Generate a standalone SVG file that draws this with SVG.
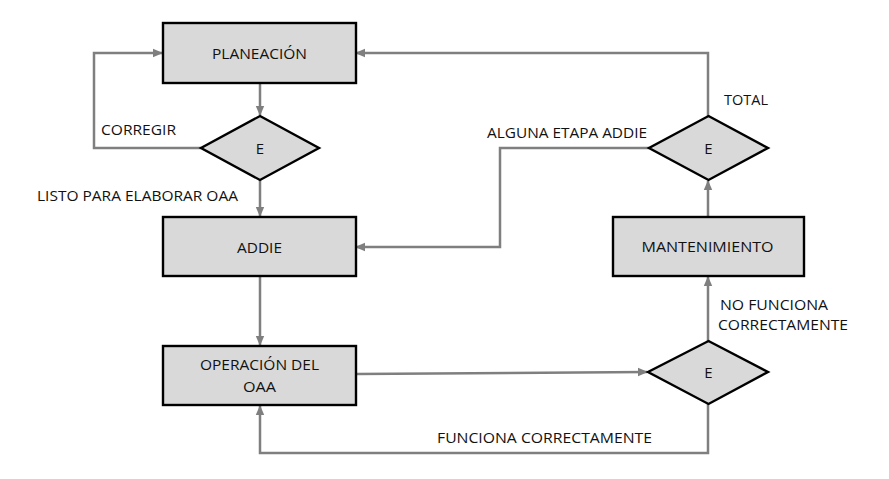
<svg xmlns="http://www.w3.org/2000/svg" width="889" height="479" viewBox="0 0 889 479">
<defs>
<style>
.box{fill:#d9d9d9;stroke:#000;stroke-width:2.4}
.t{font-family:"Open Sans","Liberation Sans",sans-serif;font-size:15px;fill:#111}
.c{text-anchor:middle}
.conn{fill:none;stroke:#7f7f7f;stroke-width:2.5}
</style>
<marker id="ah" markerUnits="userSpaceOnUse" markerWidth="10" markerHeight="10" viewBox="0 0 10 10" refX="9" refY="5" orient="auto">
<path d="M0,0.8 L10,5 L0,9.2 Z" fill="#7f7f7f"/>
</marker>
</defs>
<rect width="889" height="479" fill="#fff"/>
<g id="connectors">
<path class="conn" d="M708,116 V53 H356" marker-end="url(#ah)"/>
<path class="conn" d="M260,84 V115" marker-end="url(#ah)"/>
<path class="conn" d="M201,148 H94 V53 H162" marker-end="url(#ah)"/>
<path class="conn" d="M260,180 V216" marker-end="url(#ah)"/>
<path class="conn" d="M649,148 H500 V247 H356" marker-end="url(#ah)"/>
<path class="conn" d="M260,277 V345" marker-end="url(#ah)"/>
<path class="conn" d="M356,374 L647,372" marker-end="url(#ah)"/>
<path class="conn" d="M708,404 V453 H260 V406" marker-end="url(#ah)"/>
<path class="conn" d="M708,341 V277" marker-end="url(#ah)"/>
<path class="conn" d="M708,217 V181" marker-end="url(#ah)"/>
</g>
<g id="planeacion">
<rect class="box" x="163" y="23" width="193" height="60"/>
<text class="t c" x="259.5" y="59" textLength="95" lengthAdjust="spacingAndGlyphs">PLANEACIÓN</text>
</g>
<g id="decision1">
<polygon class="box" points="260,116 319,148 260,180 201,148"/>
<text class="t c" x="260" y="154">E</text>
</g>
<g id="addie">
<rect class="box" x="163" y="217" width="193" height="59"/>
<text class="t c" x="259.5" y="253" textLength="45" lengthAdjust="spacingAndGlyphs">ADDIE</text>
</g>
<g id="operacion">
<rect class="box" x="163" y="346" width="193" height="59"/>
<text class="t c" x="259.5" y="370" textLength="119" lengthAdjust="spacingAndGlyphs">OPERACIÓN DEL</text>
<text class="t c" x="259.5" y="392" textLength="33" lengthAdjust="spacingAndGlyphs">OAA</text>
</g>
<g id="decision2">
<polygon class="box" points="708.5,116 768,148 708.5,180 649,148"/>
<text class="t c" x="708.5" y="154">E</text>
</g>
<g id="mantenimiento">
<rect class="box" x="613" y="217" width="191" height="59"/>
<text class="t c" x="707.5" y="252" textLength="132" lengthAdjust="spacingAndGlyphs">MANTENIMIENTO</text>
</g>
<g id="decision3">
<polygon class="box" points="708.5,341 768,372 708.5,404 648,372"/>
<text class="t c" x="708.5" y="378">E</text>
</g>
<g id="labels">
<text class="t" x="101" y="135" textLength="75" lengthAdjust="spacingAndGlyphs">CORREGIR</text>
<text class="t" x="37" y="200.5" textLength="201" lengthAdjust="spacingAndGlyphs">LISTO PARA ELABORAR OAA</text>
<text class="t" x="724" y="105" textLength="44" lengthAdjust="spacingAndGlyphs">TOTAL</text>
<text class="t" x="487" y="138" textLength="160" lengthAdjust="spacingAndGlyphs">ALGUNA ETAPA ADDIE</text>
<text class="t" x="720" y="310" textLength="108" lengthAdjust="spacingAndGlyphs">NO FUNCIONA</text>
<text class="t" x="718" y="330" textLength="130" lengthAdjust="spacingAndGlyphs">CORRECTAMENTE</text>
<text class="t" x="437" y="442.5" textLength="215" lengthAdjust="spacingAndGlyphs">FUNCIONA CORRECTAMENTE</text>
</g>
</svg>
